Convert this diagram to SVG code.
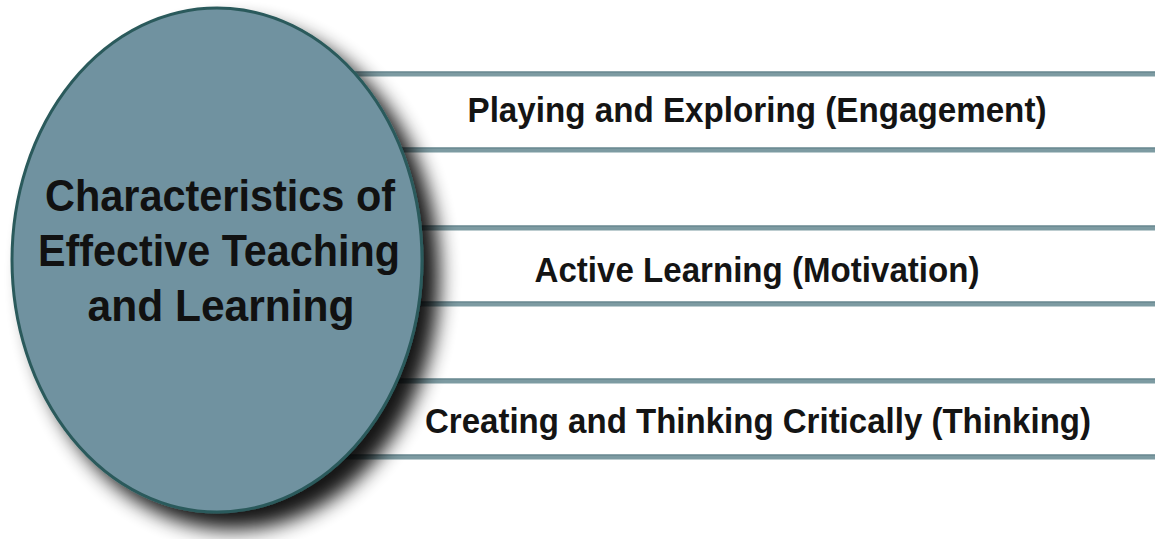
<svg xmlns="http://www.w3.org/2000/svg" width="1155" height="539" viewBox="0 0 1155 539">
  <style>
    .bar { stroke: #7d9ba2; stroke-width: 5; }
    .barEdge { stroke: #5f7f86; stroke-width: 1.2; }
    .lbl { font-family: "Liberation Sans", Arial, sans-serif; font-weight: bold; font-size: 35px; fill: #141414; text-anchor: middle; }
    .title { font-family: "Liberation Sans", Arial, sans-serif; font-weight: bold; font-size: 45px; fill: #111; text-anchor: middle; }
  </style>
  <defs>
    <filter id="shadow" x="-20%" y="-20%" width="150%" height="150%">
      <feGaussianBlur in="SourceAlpha" stdDeviation="10"/>
      <feOffset dx="16" dy="16" result="b"/>
      <feComponentTransfer><feFuncA type="linear" slope="0.92"/></feComponentTransfer>
      <feMerge><feMergeNode/><feMergeNode in="SourceGraphic"/></feMerge>
    </filter>
  </defs>
  <rect width="1155" height="539" fill="#ffffff"/>
  <g id="connectors">
    <line class="bar" x1="300" y1="74" x2="1155" y2="74"/>
    <line class="bar" x1="300" y1="150" x2="1155" y2="150"/>
    <line class="bar" x1="300" y1="228" x2="1155" y2="228"/>
    <line class="bar" x1="300" y1="304" x2="1155" y2="304"/>
    <line class="bar" x1="300" y1="381" x2="1155" y2="381"/>
    <line class="bar" x1="300" y1="457" x2="1155" y2="457"/>
    <line class="barEdge" x1="300" y1="72" x2="1155" y2="72"/>
    <line class="barEdge" x1="300" y1="148" x2="1155" y2="148"/>
    <line class="barEdge" x1="300" y1="226" x2="1155" y2="226"/>
    <line class="barEdge" x1="300" y1="302" x2="1155" y2="302"/>
    <line class="barEdge" x1="300" y1="379" x2="1155" y2="379"/>
    <line class="barEdge" x1="300" y1="455" x2="1155" y2="455"/>
  </g>
  <g id="item1">
    <text class="lbl" x="757" y="122" textLength="579" lengthAdjust="spacingAndGlyphs">Playing and Exploring (Engagement)</text>
  </g>
  <g id="item2">
    <text class="lbl" x="757" y="282" textLength="445" lengthAdjust="spacingAndGlyphs">Active Learning (Motivation)</text>
  </g>
  <g id="item3">
    <text class="lbl" x="758" y="433" textLength="666" lengthAdjust="spacingAndGlyphs">Creating and Thinking Critically (Thinking)</text>
  </g>
  <g id="center">
    <ellipse cx="217" cy="260" rx="205" ry="252" fill="#7092a0" stroke="#2c5a5b" stroke-width="3" filter="url(#shadow)"/>
    <text class="title" x="220" y="211" textLength="350" lengthAdjust="spacingAndGlyphs">Characteristics of</text>
    <text class="title" x="219" y="266" textLength="362" lengthAdjust="spacingAndGlyphs">Effective Teaching</text>
    <text class="title" x="221" y="321" textLength="267" lengthAdjust="spacingAndGlyphs">and Learning</text>
  </g>
</svg>
